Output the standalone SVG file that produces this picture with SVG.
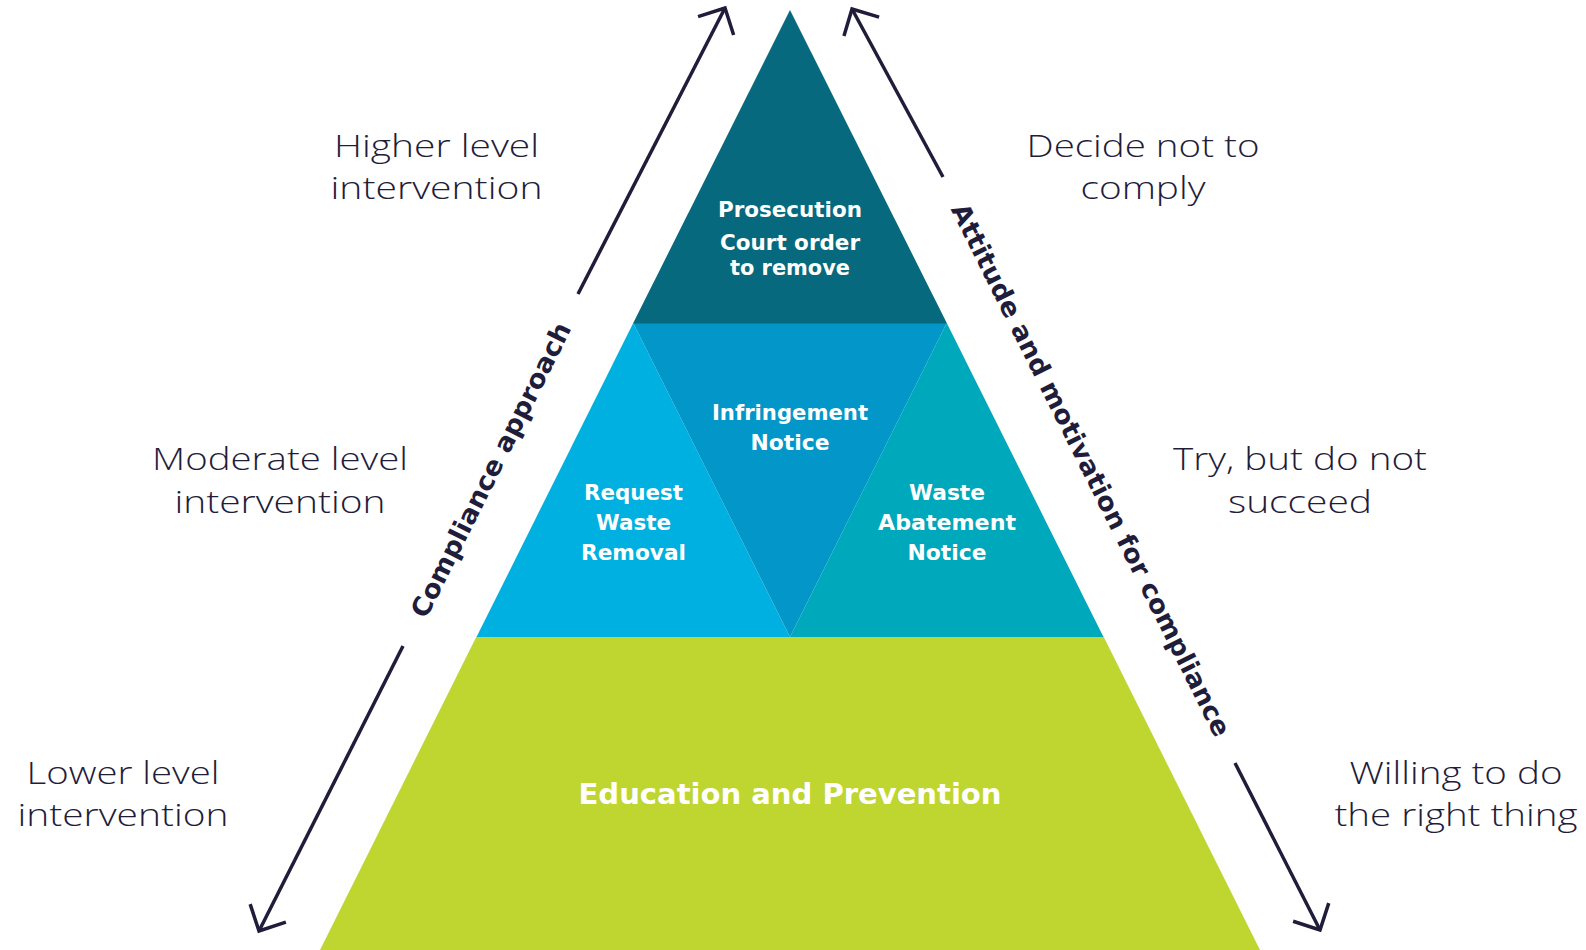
<svg xmlns="http://www.w3.org/2000/svg" width="1586" height="950" viewBox="0 0 1586 950">
<style>
.side{font-family:"Open Sans","Liberation Sans",sans-serif;font-weight:300;font-size:31px;fill:#1f1d3a;text-anchor:middle}
.in{font-family:"DejaVu Sans","Liberation Sans",sans-serif;font-weight:700;font-size:21px;fill:#ffffff;text-anchor:middle}
.big{font-size:29px}
.rot{font-family:"DejaVu Sans","Liberation Sans",sans-serif;font-weight:700;font-size:26px;fill:#1f1d3a;text-anchor:middle}
.arr{stroke:#1f1d3a;stroke-width:3.5;fill:none}
</style>
<defs>
<marker id="ah" markerUnits="userSpaceOnUse" viewBox="-24 -24 28 48" refX="0" refY="0" markerWidth="28" markerHeight="48" orient="auto" overflow="visible">
<path d="M-20,-20 L0,0 L-20,20" fill="none" stroke="#1f1d3a" stroke-width="3.5"/>
</marker>
</defs>
<rect width="1586" height="950" fill="#ffffff"/>

<g id="tier-base">
<polygon points="476.5,636.5 1103.5,636.5 1260,950 320,950" fill="#bfd530"/>
<text class="in big" x="790" y="804" textLength="423" lengthAdjust="spacingAndGlyphs">Education and Prevention</text>
</g>
<g id="tier-left">
<polygon points="633.25,323 790,637 476.5,637" fill="#00b0e0"/>
<text class="in" x="633.5" y="500" textLength="99" lengthAdjust="spacingAndGlyphs">Request</text>
<text class="in" x="633.5" y="530" textLength="75" lengthAdjust="spacingAndGlyphs">Waste</text>
<text class="in" x="633.5" y="560" textLength="105" lengthAdjust="spacingAndGlyphs">Removal</text>
</g>
<g id="tier-right">
<polygon points="946.75,323 1103.5,637 790,637" fill="#00a8bb"/>
<text class="in" x="947" y="500" textLength="76" lengthAdjust="spacingAndGlyphs">Waste</text>
<text class="in" x="947" y="530" textLength="138" lengthAdjust="spacingAndGlyphs">Abatement</text>
<text class="in" x="947" y="560" textLength="79" lengthAdjust="spacingAndGlyphs">Notice</text>
</g>
<g id="tier-middle">
<polygon points="633.25,323 946.75,323 790,637" fill="#0397c9"/>
<text class="in" x="790" y="420" textLength="156" lengthAdjust="spacingAndGlyphs">Infringement</text>
<text class="in" x="790" y="450" textLength="79" lengthAdjust="spacingAndGlyphs">Notice</text>
</g>
<g id="tier-top">
<polygon points="790,10 947,323.5 633,323.5" fill="#07697d"/>
<text class="in" x="790" y="217" textLength="144" lengthAdjust="spacingAndGlyphs">Prosecution</text>
<text class="in" x="790" y="250" textLength="140" lengthAdjust="spacingAndGlyphs">Court order</text>
<text class="in" x="790" y="275" textLength="120" lengthAdjust="spacingAndGlyphs">to remove</text>
</g>

<g id="label-higher">
<text class="side" x="436.5" y="157" textLength="205" lengthAdjust="spacingAndGlyphs">Higher level</text>
<text class="side" x="436.5" y="199" textLength="212" lengthAdjust="spacingAndGlyphs">intervention</text>
</g>
<g id="label-moderate">
<text class="side" x="280" y="470" textLength="256" lengthAdjust="spacingAndGlyphs">Moderate level</text>
<text class="side" x="280" y="513" textLength="211" lengthAdjust="spacingAndGlyphs">intervention</text>
</g>
<g id="label-lower">
<text class="side" x="123" y="784" textLength="193" lengthAdjust="spacingAndGlyphs">Lower level</text>
<text class="side" x="123" y="826" textLength="211" lengthAdjust="spacingAndGlyphs">intervention</text>
</g>
<g id="label-decide">
<text class="side" x="1143" y="157" textLength="233" lengthAdjust="spacingAndGlyphs">Decide not to</text>
<text class="side" x="1143" y="199" textLength="125" lengthAdjust="spacingAndGlyphs">comply</text>
</g>
<g id="label-try">
<text class="side" x="1300" y="470" textLength="254" lengthAdjust="spacingAndGlyphs">Try, but do not</text>
<text class="side" x="1300" y="513" textLength="144" lengthAdjust="spacingAndGlyphs">succeed</text>
</g>
<g id="label-willing">
<text class="side" x="1456" y="784" textLength="213" lengthAdjust="spacingAndGlyphs">Willing to do</text>
<text class="side" x="1456" y="826" textLength="243" lengthAdjust="spacingAndGlyphs">the right thing</text>
</g>

<g id="axis-labels">
<text class="rot" transform="translate(499,474) rotate(-63.43)" textLength="326" lengthAdjust="spacingAndGlyphs">Compliance approach</text>
<text class="rot" transform="translate(1083,474) rotate(63.43)" textLength="592" lengthAdjust="spacingAndGlyphs">Attitude and motivation for compliance</text>
</g>

<g id="connectors">
<line class="arr" x1="578" y1="294" x2="725" y2="8" marker-end="url(#ah)"/>
<line class="arr" x1="403" y1="646" x2="259" y2="931" marker-end="url(#ah)"/>
<line class="arr" x1="943" y1="177" x2="852" y2="9" marker-end="url(#ah)"/>
<line class="arr" x1="1235" y1="763" x2="1320" y2="930" marker-end="url(#ah)"/>
</g>
</svg>
